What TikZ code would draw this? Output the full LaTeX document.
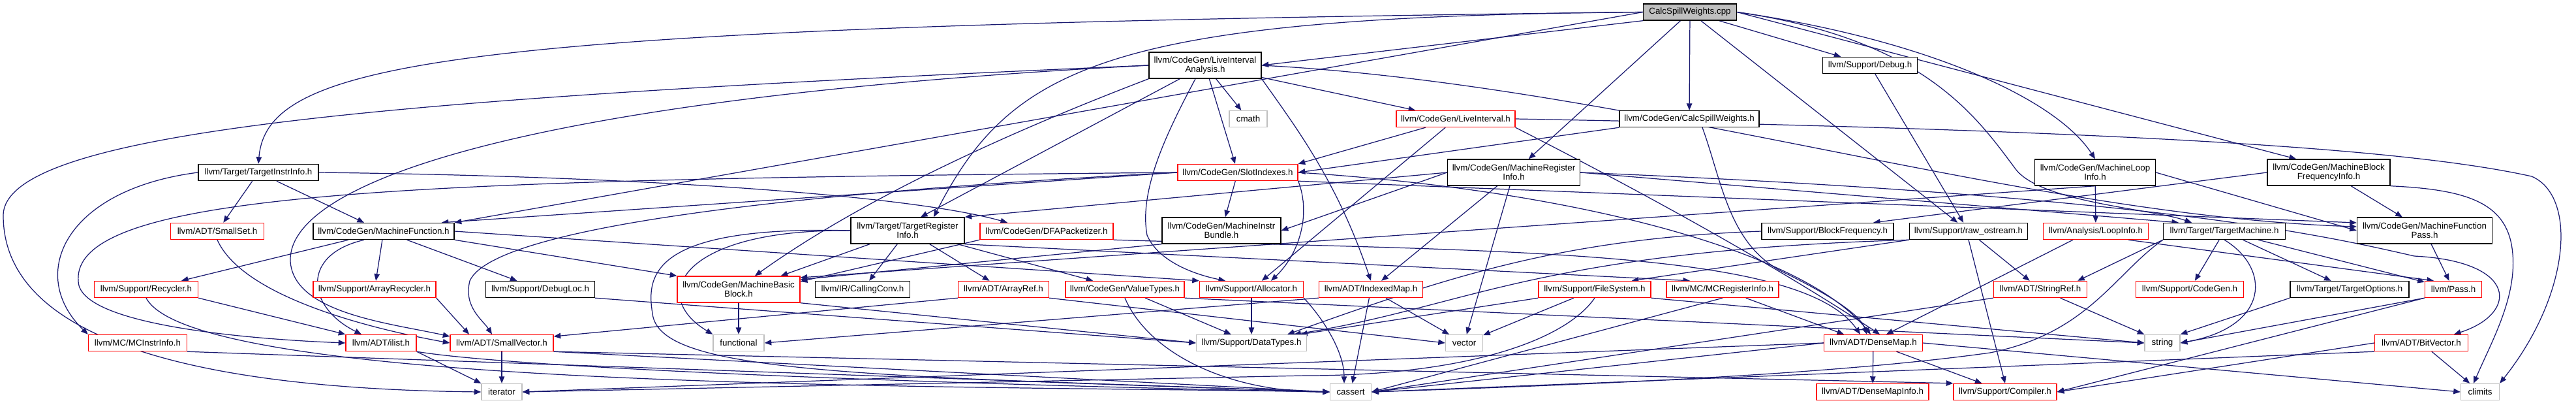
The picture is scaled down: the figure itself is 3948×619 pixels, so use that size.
\documentclass[tikz,border=0pt]{standalone}
\usepackage{fontspec}
\setmainfont{Liberation Sans}
\usetikzlibrary{arrows.meta}
\definecolor{edgeblue}{RGB}{25,25,112}
\definecolor{boxred}{RGB}{255,0,0}
\definecolor{boxgray}{RGB}{191,191,191}
\pgfdeclarelayer{bg}
\pgfsetlayers{bg,main}
\begin{document}
\begin{tikzpicture}[x=0.1mm,y=-0.1mm,
  box/.style={draw, rectangle, line width=0.4pt, inner sep=0pt, minimum height=2.5mm, align=center,
              font=\fontsize{3.8}{4.0}\selectfont, fill=white},
  hb/.style={box, draw=black},
  hr/.style={box, draw=boxred},
  hg/.style={box, draw=boxgray},
  tall/.style={minimum height=4mm},
  e/.style={draw=edgeblue, line width=0.35pt, -{Triangle[length=3pt,width=2.4pt]}},
]
\useasboundingbox (0,0) rectangle (3948,619);
% row 0
\node[hb, fill=boxgray, minimum width=14.3mm] (csw) at (2590,18.5) {CalcSpillWeights.cpp};
% row 1
\node[hb, tall, minimum width=17.2mm] (lia) at (1847,100) {llvm/CodeGen/LiveInterval\\Analysis.h};
\node[hb, minimum width=14.5mm] (dbg) at (2866,100) {llvm/Support/Debug.h};
% row 2
\node[hr, minimum width=18.2mm] (li) at (2231,182) {llvm/CodeGen/LiveInterval.h};
\node[hb, minimum width=21.4mm] (csh) at (2589,182) {llvm/CodeGen/CalcSpillWeights.h};
\node[hg, minimum width=5.8mm] (cmath) at (1913,182) {cmath};
% row 3
\node[hb, minimum width=18.4mm] (tii) at (396,264) {llvm/Target/TargetInstrInfo.h};
\node[hr, minimum width=18.4mm] (si) at (1897,264) {llvm/CodeGen/SlotIndexes.h};
\node[hb, tall, minimum width=20.3mm] (mri) at (2320,264) {llvm/CodeGen/MachineRegister\\Info.h};
\node[hb, tall, minimum width=18.5mm] (mli) at (3211,264) {llvm/CodeGen/MachineLoop\\Info.h};
\node[hb, tall, minimum width=18.8mm] (mbfi) at (3569,264) {llvm/CodeGen/MachineBlock\\FrequencyInfo.h};
% row 4
\node[hr, minimum width=14.3mm] (ss) at (333,354) {llvm/ADT/SmallSet.h};
\node[hb, minimum width=21.6mm] (mf) at (588,354) {llvm/CodeGen/MachineFunction.h};
\node[hb, tall, minimum width=17.4mm] (tri) at (1391,353) {llvm/Target/TargetRegister\\Info.h};
\node[hr, minimum width=20.4mm] (dfa) at (1604,354) {llvm/CodeGen/DFAPacketizer.h};
\node[hb, tall, minimum width=18.2mm] (mib) at (1872,353) {llvm/CodeGen/MachineInstr\\Bundle.h};
\node[hb, minimum width=20.2mm] (bf) at (2801,354) {llvm/Support/BlockFrequency.h};
\node[hb, minimum width=18.1mm] (ros) at (3017,354) {llvm/Support/raw\_ostream.h};
\node[hr, minimum width=16.1mm] (loop) at (3212,354) {llvm/Analysis/LoopInfo.h};
\node[hb, minimum width=18.7mm] (tm) at (3409,354) {llvm/Target/TargetMachine.h};
\node[hb, tall, minimum width=20.7mm] (mfp) at (3716,353) {llvm/CodeGen/MachineFunction\\Pass.h};
% row 5
\node[hr, minimum width=15.9mm] (rec) at (224,443) {llvm/Support/Recycler.h};
\node[hr, minimum width=18.8mm] (arec) at (574,443) {llvm/Support/ArrayRecycler.h};
\node[hb, minimum width=16.7mm] (dloc) at (828,443) {llvm/Support/DebugLoc.h};
\node[hr, tall, minimum width=18.8mm] (mbb) at (1132,443) {llvm/CodeGen/MachineBasic\\Block.h};
\node[hb, minimum width=14.5mm] (cc) at (1322,443) {llvm/IR/CallingConv.h};
\node[hr, minimum width=13.9mm] (aref) at (1538,443) {llvm/ADT/ArrayRef.h};
\node[hr, minimum width=18.2mm] (vt) at (1724,443) {llvm/CodeGen/ValueTypes.h};
\node[hr, minimum width=15.9mm] (alloc) at (1918,443) {llvm/Support/Allocator.h};
\node[hr, minimum width=15.9mm] (imap) at (2101,443) {llvm/ADT/IndexedMap.h};
\node[hr, minimum width=17.2mm] (fs) at (2444,443) {llvm/Support/FileSystem.h};
\node[hr, minimum width=17.2mm] (mcri) at (2640,443) {llvm/MC/MCRegisterInfo.h};
\node[hr, minimum width=14.3mm] (sref) at (3127,443) {llvm/ADT/StringRef.h};
\node[hr, minimum width=16.5mm] (cg) at (3356,443) {llvm/Support/CodeGen.h};
\node[hb, minimum width=18.2mm] (topt) at (3601,443) {llvm/Target/TargetOptions.h};
\node[hr, minimum width=8.7mm] (pass) at (3760,443) {llvm/Pass.h};
% row 6
\node[hr, minimum width=15.1mm] (mcii) at (211,525) {llvm/MC/MCInstrInfo.h};
\node[hr, minimum width=10.8mm] (ilist) at (584,525) {llvm/ADT/ilist.h};
\node[hr, minimum width=15.8mm] (sv) at (769,525) {llvm/ADT/SmallVector.h};
\node[hg, minimum width=7.8mm] (func) at (1132,525) {functional};
\node[hg, minimum width=16.9mm] (dt) at (1918,525) {llvm/Support/DataTypes.h};
\node[hg, minimum width=5.7mm] (vec) at (2244,525) {vector};
\node[hr, minimum width=15.1mm] (dm) at (2871,525) {llvm/ADT/DenseMap.h};
\node[hg, minimum width=5.4mm] (str) at (3314,525) {string};
\node[hr, minimum width=14.3mm] (bv) at (3711,525) {llvm/ADT/BitVector.h};
% row 7
\node[hg, minimum width=6.2mm] (iter) at (769,600) {iterator};
\node[hg, minimum width=6.3mm] (cassert) at (2070,600) {cassert};
\node[hr, minimum width=17.2mm] (dmi) at (2870,600) {llvm/ADT/DenseMapInfo.h};
\node[hr, minimum width=15.8mm] (comp) at (3073,600) {llvm/Support/Compiler.h};
\node[hg, minimum width=5.9mm] (climits) at (3801,600) {climits};

\begin{pgfonlayer}{bg}
\fill[white] (0,0) rectangle (3948,619);
% CalcSpillWeights.cpp
\draw[e] (csw.west) .. controls (700,40) and (410,90) .. (tii.north);
\draw[e] (csw.south west) -- (lia.east);
\draw[e] (csw.west) -- (mf.north east);
\draw[e] (csw.west) .. controls (1700,25) and (1550,100) .. ([xshift=4mm]tri.north);
\draw[e] (csw) -- (csh);
\draw[e] (csw) -- (mri);
\draw[e] (csw) -- (dbg);
\draw[e] (csw) -- (ros);
\draw[e] (csw.east) .. controls (2950,60) and (3150,150) .. (mli.north);
\draw[e] (csw.east) -- ([xshift=-5mm]mbfi.north);
\draw[e] (csw.east) .. controls (2950,60) and (3030,180) .. (3090,260) .. controls (3130,310) and (3300,320) .. ([xshift=-5mm]tm.north);
% LiveIntervalAnalysis.h
\draw[e] (lia.west) .. controls (600,150) and (5,200) .. (5,330) .. controls (5,520) and (300,595) .. (iter.west);
\draw[e] (lia.west) .. controls (800,150) and (440,280) .. (445,400) .. controls (450,480) and (600,495) .. ([yshift=1mm]sv.west);
\draw[e] (lia) -- (li);
\draw[e] (lia) -- (si);
\draw[e] (lia) -- (cmath);
\draw[e] ([xshift=-1.5mm]lia.south) .. controls (1790,200) and (1745,290) .. (1758,360) .. controls (1775,400) and (1830,420) .. ([xshift=-4mm]alloc.north);
\draw[e] (lia) -- ([xshift=2mm]tri.north);
\draw[e] (lia.south west) .. controls (1500,220) and (1300,320) .. ([xshift=2.5mm]mbb.north);
\draw[e] (lia.south east) .. controls (1990,200) and (2050,280) .. (imap.north);
\draw[e] (lia.east) .. controls (2500,130) and (3100,330) .. ([yshift=0.6mm]mfp.west);
% TargetInstrInfo.h
\draw[e] (tii) -- (ss);
\draw[e] (tii) -- ([xshift=-3mm]mf.north);
\draw[e] (tii.west) .. controls (100,290) and (40,420) .. (mcii.north west);
\draw[e] (tii.east) .. controls (1000,270) and (1400,300) .. ([xshift=-6mm]dfa.north);
% SlotIndexes.h
\draw[e] (si.west) .. controls (650,275) and (110,290) .. (120,430) .. controls (120,500) and (400,520) .. (ilist.west);
\draw[e] (si.west) -- ([xshift=-2mm]mf.north east);
\draw[e] (si.west) .. controls (1300,290) and (760,340) .. (720,430) .. controls (710,470) and (740,490) .. ([xshift=-1.5mm]sv.north);
\draw[e] (si) -- (mib);
\draw[e] (si.south east) .. controls (2010,330) and (1990,390) .. ([xshift=3mm]alloc.north);
\draw[e] (si.south east) -- ([yshift=1.2mm]mfp.west);
\draw[e] (si.east) .. controls (2400,290) and (2760,380) .. ([xshift=-0.4mm]dm.north);
% LiveInterval.h
\draw[e] (li) -- (si.north east);
\draw[e] (li) -- (alloc);
\draw[e] (li.south east) .. controls (2450,260) and (2680,380) .. ([xshift=1mm]dm.north);
\draw[e] (li.east) .. controls (3300,200) and (3700,230) .. (3880,270) .. controls (3950,300) and (3940,450) .. (climits.north east);
% CalcSpillWeights.h
\draw[e] (csh.south west) -- (si.east);
\draw[e] ([xshift=2mm]csh.south) .. controls (2640,280) and (2650,380) .. (2740,420) .. controls (2800,450) and (2850,480) .. ([xshift=-1mm]dm.north);
% MachineRegisterInfo.h
\draw[e] (mri.east) .. controls (3300,300) and (3560,360) .. (3700,392) .. controls (3860,400) and (3860,480) .. ([xshift=5mm]bv.north);
\draw[e] (mri) -- (imap);
\draw[e] (mri.west) -- (mib.east);
\draw[e] (mri.east) -- ([xshift=-7mm]tm.north);
\draw[e] (mri.west) -- (tri.north east);
\draw[e] (mri) -- (vec);
% MachineLoopInfo.h
\draw[e] (mli) -- (loop);
\draw[e] (mli.south) -- ([yshift=1.8mm]mbb.east);
\draw[e] (mli.east) -- (mfp.west);
% MachineBlockFrequencyInfo.h
\draw[e] (mbfi) -- (mfp);
\draw[e] (mbfi.west) -- ([xshift=7mm]bf.north);
\draw[e] (mbfi.south east) .. controls (3780,290) and (3840,310) .. (3850,380) .. controls (3860,450) and (3820,520) .. ([xshift=-1mm]climits.north);
% Debug.h
\draw[e] (dbg) -- (ros);
% MachineFunction.h
\draw[e] (mf) -- (rec);
\draw[e] (mf) -- (arec);
\draw[e] ([xshift=-3mm]mf.south) .. controls (460,390) and (470,470) .. ([xshift=-3mm]ilist.north);
\draw[e] (mf) -- (dloc);
\draw[e] (mf.south east) -- (mbb.north west);
\draw[e] (mf.east) -- (alloc.north west);
% SmallSet.h
\draw[e] (ss.south) .. controls (370,450) and (550,500) .. (sv.west);
% Recycler.h
\draw[e] (rec.south east) -- (ilist.north west);
\draw[e] (rec.south) .. controls (300,600) and (1500,590) .. (cassert.west);
% ArrayRecycler.h
\draw[e] (arec.south east) -- ([xshift=-5mm]sv.north);
% MCInstrInfo.h
\draw[e] (mcii.south east) -- (cassert.west);
% ilist.h
\draw[e] (ilist.south east) -- (iter.north west);
\draw[e] (ilist.south east) .. controls (800,565) and (1500,590) .. (cassert.west);
% SmallVector.h
\draw[e] (sv) -- (iter);
\draw[e] (sv.south east) -- (cassert.west);
\draw[e] (sv.south east) -- (comp.north west);
% DebugLoc.h
\draw[e] (dloc.south east) -- (dt.west);
% MachineBasicBlock.h
\draw[e] (mbb) -- (func);
\draw[e] (mbb.south east) -- (dt.west);
% TargetRegisterInfo.h
\draw[e] (tri) -- (aref);
\draw[e] (tri) -- (vt);
\draw[e] (tri) -- (cc);
\draw[e] (tri) -- ([xshift=-3mm]mbb.north east);
\draw[e] (tri.south east) -- ([xshift=-5mm]mcri.north);
\draw[e] (tri.west) .. controls (1050,350) and (990,450) .. (func.north west);
\draw[e] (tri.west) .. controls (1000,345) and (990,420) .. (1000,480) .. controls (1010,570) and (1300,575) .. (cassert.west);
% DFAPacketizer.h
\draw[e] (dfa.south west) -- ([yshift=1.2mm]mbb.east);
\draw[e] (dfa.south east) .. controls (2300,385) and (2760,380) .. ([xshift=-2mm]dm.north);
% MachineInstrBundle.h
\draw[e] (mib.south west) -- ([yshift=1.5mm]mbb.east);
% ArrayRef.h
\draw[e] (aref.south west) -- ([yshift=1mm]sv.east);
\draw[e] (aref.south east) -- (vec.west);
% ValueTypes.h
\draw[e] (vt) -- (dt);
\draw[e] (vt.south) .. controls (1760,540) and (1880,600) .. (cassert.west);
\draw[e] (vt.south east) -- (str.west);
% Allocator.h
\draw[e] (alloc) -- (dt);
\draw[e] (alloc.south east) .. controls (2030,490) and (2060,540) .. ([xshift=-1mm]cassert.north);
% IndexedMap.h
\draw[e] (imap.south west) -- (func.east);
\draw[e] (imap) -- (vec);
\draw[e] (imap) -- (cassert);
% FileSystem.h
\draw[e] (fs) -- (vec);
\draw[e] (fs.south west) -- ([xshift=-1mm]dt.north east);
\draw[e] (fs.south) .. controls (2400,520) and (2250,575) .. (2000,575) -- (iter.east);
\draw[e] (fs.south east) -- (str.west);
% raw_ostream.h
\draw[e] (ros) -- (sref);
\draw[e] (ros.south) -- (comp.north);
\draw[e] (ros.south west) .. controls (2350,385) and (2250,470) .. ([xshift=-2mm]dt.north east);
\draw[e] (ros.south west) -- ([xshift=-3mm]fs.north east);
% BlockFrequency.h
\draw[e] (bf.west) .. controls (2400,365) and (2230,420) .. ([xshift=-3mm]dt.north east);
% LoopInfo.h
\draw[e] ([xshift=-3.5mm]loop.south) -- ([xshift=2mm]dm.north);
\draw[e] ([xshift=5mm]loop.south) -- ([xshift=-3mm]pass.north);
% TargetMachine.h
\draw[e] (tm) -- (cg);
\draw[e] (tm) -- (topt);
\draw[e] (tm) -- (pass);
\draw[e] (tm.south) .. controls (3480,410) and (3480,500) .. (str.east);
\draw[e] (tm.south west) -- ([xshift=-1.5mm]sref.north east);
\draw[e] (tm.south west) .. controls (3240,420) and (3200,510) .. (3050,540) .. controls (2800,575) and (2400,590) .. (cassert.east);
% Pass.h
\draw[e] (pass.south west) -- (str.east);
\draw[e] (pass.south west) -- (comp.east);
% TargetOptions.h
\draw[e] (topt.south west) -- (str.north east);
% StringRef.h
\draw[e] (sref) -- (str.north west);
\draw[e] (sref.south west) -- (cassert.east);
% MCRegisterInfo.h
\draw[e] (mcri) -- ([xshift=-4.5mm]dm.north);
\draw[e] (mcri.south) -- (cassert.east);
% MachineFunctionPass.h
\draw[e] (mfp) -- (pass);
% DenseMap.h
\draw[e] (dm) -- (dmi);
\draw[e] (dm) -- (comp);
\draw[e] (dm.west) -- (cassert.east);
\draw[e] (dm.west) -- (iter.east);
\draw[e] (dm.east) -- (climits.west);
% BitVector.h
\draw[e] (bv) -- (climits);
\draw[e] (bv.west) -- (comp.east);
\draw[e] (bv.south west) -- (cassert.east);
\end{pgfonlayer}
\end{tikzpicture}
\end{document}
